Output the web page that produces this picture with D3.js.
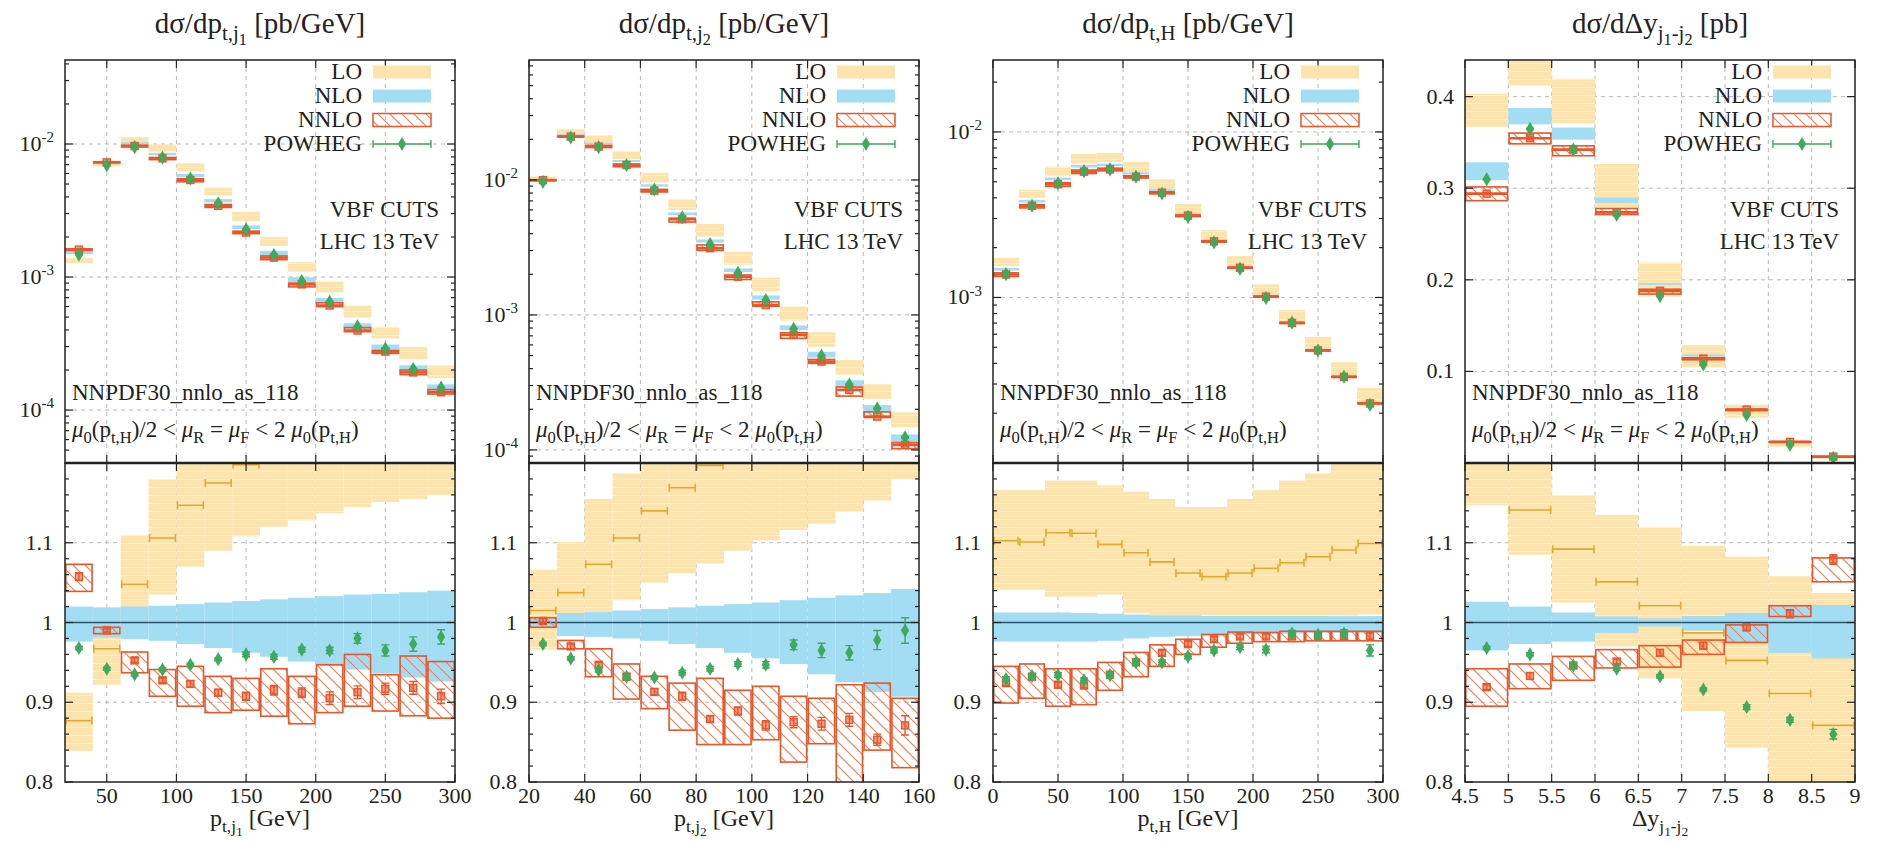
<!DOCTYPE html>
<html>
<head>
<meta charset="utf-8">
<script src="https://cdn.jsdelivr.net/npm/d3@7"></script>
<style>
  body { margin: 0; background: #fff; }
  text { font-family: "Liberation Serif", "Times New Roman", serif; fill: #222; }
</style>
</head>
<body>
<svg id="chart" width="1877" height="844"></svg>
<script>
// ---- data: ratios are relative to the NLO central value of each bin ----

// p_t,j1
const edgesJ1 = [20, 40, 60, 80, 100, 120, 140, 160, 180, 200, 220, 240, 260, 280, 300];
const nloJ1 = [1.52e-3, 7.35e-3, 1.014e-2, 8.41e-3, 5.81e-3, 3.76e-3, 2.38e-3, 1.53e-3, 9.66e-4, 6.75e-4, 4.34e-4, 3.0e-4, 2.09e-4, 1.5e-4];
const nloLoJ1 = [0.976, 0.981, 0.979, 0.977, 0.973, 0.968, 0.962, 0.957, 0.951, 0.946, 0.941, 0.936, 0.931, 0.926];
const nloHiJ1 = [1.020, 1.019, 1.020, 1.021, 1.023, 1.025, 1.027, 1.029, 1.031, 1.033, 1.035, 1.036, 1.038, 1.040];
const loJ1 = [0.877, 0.967, 1.048, 1.106, 1.147, 1.175, 1.198, 1.22, 1.235, 1.25, 1.26, 1.27, 1.28, 1.29];
const loLoJ1 = [0.839, 0.922, 1.000, 1.035, 1.070, 1.090, 1.108, 1.120, 1.128, 1.137, 1.145, 1.151, 1.155, 1.160];
const loHiJ1 = [0.912, 1.016, 1.110, 1.180, 1.230, 1.250, 1.300, 1.310, 1.340, 1.370, 1.400, 1.410, 1.430, 1.440];
const nnloJ1 = [1.0575, 0.990, 0.9525, 0.9275, 0.923, 0.912, 0.9075, 0.915, 0.912, 0.905, 0.9125, 0.917, 0.918, 0.9075];
const nnloLoJ1 = [1.039, 0.986, 0.937, 0.9075, 0.895, 0.887, 0.890, 0.8825, 0.873, 0.887, 0.895, 0.889, 0.883, 0.880];
const nnloHiJ1 = [1.073, 0.994, 0.963, 0.941, 0.945, 0.9325, 0.930, 0.942, 0.9325, 0.947, 0.960, 0.9345, 0.958, 0.951];
const nnloErrJ1 = [0.005, 0.002, 0.003, 0.003, 0.004, 0.004, 0.005, 0.006, 0.006, 0.008, 0.008, 0.007, 0.008, 0.009];
const pwJ1 = [0.968, 0.942, 0.935, 0.941, 0.947, 0.954, 0.960, 0.957, 0.966, 0.965, 0.980, 0.965, 0.973, 0.982];
const pwErrJ1 = [0.002, 0.002, 0.002, 0.002, 0.002, 0.002, 0.003, 0.003, 0.003, 0.004, 0.006, 0.007, 0.009, 0.009];

// p_t,j2
const edgesJ2 = [20, 30, 40, 50, 60, 70, 80, 90, 100, 110, 120, 130, 140, 150, 160];
const nloJ2 = [9.95e-3, 2.16e-2, 1.865e-2, 1.385e-2, 9.13e-3, 5.64e-3, 3.55e-3, 2.16e-3, 1.36e-3, 8.13e-4, 5.17e-4, 3.17e-4, 2.07e-4, 1.25e-4];
const nloLoJ2 = [0.994, 0.983, 0.982, 0.980, 0.977, 0.973, 0.968, 0.962, 0.955, 0.948, 0.935, 0.925, 0.913, 0.907];
const nloHiJ2 = [1.006, 1.012, 1.013, 1.015, 1.017, 1.019, 1.021, 1.023, 1.025, 1.028, 1.031, 1.034, 1.037, 1.042];
const loJ2 = [1.015, 1.0375, 1.073, 1.106, 1.140, 1.169, 1.197, 1.22, 1.24, 1.26, 1.28, 1.30, 1.32, 1.35];
const loLoJ2 = [0.966, 1.003, 1.010, 1.028, 1.050, 1.062, 1.074, 1.090, 1.103, 1.116, 1.124, 1.139, 1.153, 1.180];
const loHiJ2 = [1.066, 1.101, 1.155, 1.187, 1.24, 1.28, 1.33, 1.36, 1.39, 1.42, 1.44, 1.46, 1.48, 1.52];
const nnloJ2 = [1.002, 0.970, 0.947, 0.932, 0.913, 0.9075, 0.879, 0.889, 0.871, 0.875, 0.873, 0.878, 0.853, 0.871];
const nnloLoJ2 = [0.994, 0.967, 0.932, 0.904, 0.892, 0.865, 0.847, 0.847, 0.853, 0.825, 0.848, 0.790, 0.840, 0.818];
const nnloHiJ2 = [1.006, 0.9775, 0.967, 0.948, 0.9325, 0.924, 0.930, 0.915, 0.920, 0.9075, 0.905, 0.922, 0.924, 0.905];
const nnloErrJ2 = [0.003, 0.003, 0.003, 0.004, 0.004, 0.005, 0.004, 0.005, 0.006, 0.007, 0.008, 0.008, 0.007, 0.012];
const pwJ2 = [0.973, 0.955, 0.940, 0.932, 0.931, 0.937, 0.942, 0.948, 0.947, 0.972, 0.965, 0.962, 0.978, 0.990];
const pwErrJ2 = [0.002, 0.002, 0.002, 0.002, 0.002, 0.003, 0.003, 0.003, 0.004, 0.006, 0.009, 0.009, 0.012, 0.016];

// p_t,H
const edgesH = [0, 20, 40, 60, 80, 100, 120, 140, 160, 180, 200, 220, 240, 260, 280, 300];
const nloH = [1.49e-3, 3.84e-3, 5.24e-3, 6.25e-3, 6.36e-3, 5.65e-3, 4.47e-3, 3.21e-3, 2.23e-3, 1.54e-3, 1.03e-3, 7.14e-4, 4.87e-4, 3.37e-4, 2.33e-4];
const nloLoH = [0.976, 0.976, 0.976, 0.976, 0.977, 0.980, 0.982, 0.983, 0.984, 0.985, 0.986, 0.986, 0.987, 0.987, 0.987];
const nloHiH = [1.0125, 1.0125, 1.0125, 1.012, 1.011, 1.010, 1.009, 1.009, 1.008, 1.008, 1.008, 1.008, 1.008, 1.008, 1.008];
const loH = [1.1025, 1.101, 1.1125, 1.112, 1.098, 1.0875, 1.076, 1.062, 1.0575, 1.062, 1.068, 1.075, 1.0825, 1.091, 1.099];
const loLoH = [1.041, 1.041, 1.0325, 1.0325, 1.035, 1.012, 1.005, 1.002, 1.000, 1.000, 1.002, 1.004, 1.006, 1.008, 1.010];
const loHiH = [1.166, 1.166, 1.178, 1.178, 1.172, 1.164, 1.155, 1.145, 1.145, 1.155, 1.166, 1.178, 1.187, 1.205, 1.22];
const nnloH = [0.924, 0.932, 0.922, 0.921, 0.9345, 0.950, 0.962, 0.973, 0.979, 0.9825, 0.9825, 0.9825, 0.983, 0.983, 0.983];
const nnloLoH = [0.899, 0.905, 0.895, 0.897, 0.915, 0.932, 0.945, 0.960, 0.969, 0.974, 0.976, 0.976, 0.977, 0.977, 0.977];
const nnloHiH = [0.945, 0.948, 0.942, 0.942, 0.950, 0.9625, 0.972, 0.979, 0.985, 0.988, 0.9875, 0.989, 0.989, 0.989, 0.989];
const nnloErrH = [0.003, 0.003, 0.003, 0.003, 0.003, 0.003, 0.003, 0.003, 0.003, 0.003, 0.003, 0.003, 0.004, 0.004, 0.004];
const pwH = [0.929, 0.933, 0.934, 0.9275, 0.934, 0.950, 0.950, 0.9575, 0.965, 0.969, 0.966, 0.986, 0.9845, 0.986, 0.965];
const pwErrH = [0.003, 0.003, 0.003, 0.003, 0.003, 0.003, 0.003, 0.003, 0.003, 0.003, 0.004, 0.004, 0.004, 0.005, 0.007];

// Delta y_j1-j2
const edgesDy = [4.5, 5, 5.5, 6, 6.5, 7, 7.5, 8, 8.5, 9];
const nloDy = [0.320, 0.380, 0.3617, 0.2877, 0.1954, 0.1174, 0.0587, 0.0228, 0.0065];
const nloLoDy = [0.965, 0.973, 0.976, 0.987, 0.995, 0.990, 0.974, 0.962, 0.955];
const nloHiDy = [1.026, 1.020, 1.0125, 1.0075, 1.005, 1.008, 1.012, 1.022, 1.022];
const loDy = [1.21, 1.141, 1.092, 1.051, 1.021, 0.987, 0.9525, 0.911, 0.871];
const loLoDy = [1.147, 1.085, 1.025, 0.970, 0.930, 0.889, 0.843, 0.780, 0.740];
const loHiDy = [1.26, 1.23, 1.16, 1.135, 1.12, 1.096, 1.0825, 1.058, 1.037];
const nnloDy = [0.919, 0.933, 0.946, 0.951, 0.962, 0.971, 0.994, 1.011, 1.079];
const nnloLoDy = [0.895, 0.917, 0.9275, 0.943, 0.944, 0.960, 0.975, 1.0075, 1.051];
const nnloHiDy = [0.942, 0.948, 0.9575, 0.966, 0.971, 0.978, 0.997, 1.021, 1.081];
const nnloErrDy = [0.003, 0.004, 0.003, 0.003, 0.004, 0.004, 0.004, 0.005, 0.006];
const pwDy = [0.968, 0.960, 0.946, 0.942, 0.9325, 0.916, 0.894, 0.878, 0.860];
const pwErrDy = [0.002, 0.002, 0.002, 0.002, 0.002, 0.002, 0.003, 0.003, 0.006];

// tick values
const xTicksJ1 = [50, 100, 150, 200, 250, 300];
const xTicksJ2 = [20, 40, 60, 80, 100, 120, 140, 160];
const xTicksH = [0, 50, 100, 150, 200, 250, 300];
const xTicksDy = [4.5, 5, 5.5, 6, 6.5, 7, 7.5, 8, 8.5, 9];
const yTicksJ1 = [1e-4, 1e-3, 1e-2];
const yTicksJ2 = [1e-4, 1e-3, 1e-2];
const yTicksH = [1e-3, 1e-2];
const yTicksDy = [0.1, 0.2, 0.3, 0.4];
const ratioTicks = [0.8, 0.9, 1, 1.1];

const legendNames = ['LO', 'NLO', 'NNLO', 'POWHEG'];

// ---- layout ----
const panelLeft = [65, 529, 993, 1465];
const panelW = 390;
const topY = 60, sepY = 463, botY = 782;

const loFill = '#fde4ae', nloFill = '#a3ddf4', nloLine = '#24506a', loLine = '#e2a92e';
const nnloCol = '#e8562a', hatchCol = '#ef7d58', pwCol = '#3daa5c', gridCol = '#b8b8b8', axisCol = '#222';

const panels = [
  { edges: edgesJ1, nlo: nloJ1, nloLo: nloLoJ1, nloHi: nloHiJ1, lo: loJ1, loLo: loLoJ1, loHi: loHiJ1,
    nnlo: nnloJ1, nnloLo: nnloLoJ1, nnloHi: nnloHiJ1, nnloErr: nnloErrJ1, pw: pwJ1, pwErr: pwErrJ1,
    xDomain: [20, 300], xTicks: xTicksJ1, log: true, yDomain: [4.0e-5, 4.28e-2], yTicks: yTicksJ1,
    title: [['dσ/dp', 0], ['t,j', -1], ['1', -2], [' [pb/GeV]', 0]],
    xlabel: [['p', 0], ['t,j', -1], ['1', -2], [' [GeV]', 0]] },
  { edges: edgesJ2, nlo: nloJ2, nloLo: nloLoJ2, nloHi: nloHiJ2, lo: loJ2, loLo: loLoJ2, loHi: loHiJ2,
    nnlo: nnloJ2, nnloLo: nnloLoJ2, nnloHi: nnloHiJ2, nnloErr: nnloErrJ2, pw: pwJ2, pwErr: pwErrJ2,
    xDomain: [20, 160], xTicks: xTicksJ2, log: true, yDomain: [8.0e-5, 7.74e-2], yTicks: yTicksJ2,
    title: [['dσ/dp', 0], ['t,j', -1], ['2', -2], [' [pb/GeV]', 0]],
    xlabel: [['p', 0], ['t,j', -1], ['2', -2], [' [GeV]', 0]] },
  { edges: edgesH, nlo: nloH, nloLo: nloLoH, nloHi: nloHiH, lo: loH, loLo: loLoH, loHi: loHiH,
    nnlo: nnloH, nnloLo: nnloLoH, nnloHi: nnloHiH, nnloErr: nnloErrH, pw: pwH, pwErr: pwErrH,
    xDomain: [0, 300], xTicks: xTicksH, log: true, yDomain: [1.0e-4, 2.72e-2], yTicks: yTicksH,
    title: [['dσ/dp', 0], ['t,H', -1], [' [pb/GeV]', 0]],
    xlabel: [['p', 0], ['t,H', -1], [' [GeV]', 0]] },
  { edges: edgesDy, nlo: nloDy, nloLo: nloLoDy, nloHi: nloHiDy, lo: loDy, loLo: loLoDy, loHi: loHiDy,
    nnlo: nnloDy, nnloLo: nnloLoDy, nnloHi: nnloHiDy, nnloErr: nnloErrDy, pw: pwDy, pwErr: pwErrDy,
    xDomain: [4.5, 9], xTicks: xTicksDy, log: false, yDomain: [0, 0.44], yTicks: yTicksDy,
    title: [['dσ/dΔy', 0], ['j', -1], ['1', -2], ['-j', -1], ['2', -2], [' [pb]', 0]],
    xlabel: [['Δy', 0], ['j', -1], ['1', -2], ['-j', -1], ['2', -2]] }
];

const muText = [['μ', 0, true], ['0', -1], ['(p', 0], ['t,H', -1], [')/2 < ', 0], ['μ', 0, true], ['R', -1],
  [' = ', 0], ['μ', 0, true], ['F', -1], [' < 2 ', 0], ['μ', 0, true], ['0', -1], ['(p', 0], ['t,H', -1], [')', 0]];

const svg = d3.select('#chart');
const defs = svg.append('defs');

// LO band: light yellow with faint horizontal streaks
const loPat = defs.append('pattern').attr('id', 'loPat')
  .attr('patternUnits', 'userSpaceOnUse').attr('width', 8).attr('height', 8);
loPat.append('rect').attr('width', 8).attr('height', 8).attr('fill', loFill);
loPat.append('rect').attr('y', 7).attr('width', 8).attr('height', 1).attr('fill', '#fff').attr('opacity', 0.45);

// NNLO hatch, "\" direction
const hatch = defs.append('pattern').attr('id', 'hatch')
  .attr('patternUnits', 'userSpaceOnUse').attr('width', 12).attr('height', 12);
hatch.append('path').attr('d', 'M0,0L12,12M-3,9L3,15M9,-3L15,3')
  .attr('stroke', hatchCol).attr('stroke-width', 1.1);

// enhanced text: level 0 normal, 1 superscript, -1 subscript, -2 sub-subscript
function rich(t, parts, size) {
  const shift = { '0': 0, '1': -0.4, '-1': 0.24, '-2': 0.42 };
  const scale = { '0': 1, '1': 0.68, '-1': 0.72, '-2': 0.56 };
  let cur = 0;
  parts.forEach(([s, lv, italic]) => {
    const off = shift[lv] * size;
    t.append('tspan').attr('dy', off - cur)
      .attr('font-size', size * scale[lv])
      .attr('font-style', italic ? 'italic' : null)
      .text(s);
    cur = off;
  });
  return t;
}

const diamond = d3.symbol().type(d3.symbolDiamond).size(58);

function drawBins(g, p, bins, x, ym, upper) {
  const w = d => x(d.x1) - x(d.x0);
  const xm = d => (x(d.x0) + x(d.x1)) / 2;
  const band = (lo, hi, fill) => g.append('g').selectAll('rect').data(bins).join('rect')
    .attr('x', d => x(d.x0)).attr('width', w)
    .attr('y', d => ym(d.k, hi[d.k]))
    .attr('height', d => Math.max(0, ym(d.k, lo[d.k]) - ym(d.k, hi[d.k])))
    .attr('fill', fill);

  band(p.loLo, p.loHi, 'url(#loPat)');
  band(p.nloLo, p.nloHi, nloFill);

  if (!upper) {
    // LO central value with bin-edge caps
    g.append('g').attr('stroke', loLine).attr('stroke-width', 1.6).attr('fill', 'none')
      .selectAll('path').data(bins).join('path')
      .attr('d', d => {
        const y = ym(d.k, p.lo[d.k]), a = x(d.x0) + 1, b = x(d.x1) - 1;
        return `M${a},${y}H${b}M${a},${y - 4}V${y + 4}M${b},${y - 4}V${y + 4}`;
      });

    // NLO central value
    g.append('g').attr('stroke', nloLine).attr('stroke-width', 1.5)
      .selectAll('line').data(bins).join('line')
      .attr('x1', d => x(d.x0)).attr('x2', d => x(d.x1))
      .attr('y1', d => ym(d.k, 1)).attr('y2', d => ym(d.k, 1));
  }

  // NNLO hatched band
  g.append('g').selectAll('rect').data(bins).join('rect')
    .attr('x', d => x(d.x0) + 0.8).attr('width', d => w(d) - 1.6)
    .attr('y', d => ym(d.k, p.nnloHi[d.k]))
    .attr('height', d => Math.max(0.5, ym(d.k, p.nnloLo[d.k]) - ym(d.k, p.nnloHi[d.k])))
    .attr('fill', 'url(#hatch)').attr('stroke', nnloCol).attr('stroke-width', 1.6);

  if (upper) {
    g.append('g').attr('stroke', nnloCol).attr('stroke-width', 2.6)
      .selectAll('line').data(bins).join('line')
      .attr('x1', d => x(d.x0) + 1).attr('x2', d => x(d.x1) - 1)
      .attr('y1', d => ym(d.k, p.nnlo[d.k])).attr('y2', d => ym(d.k, p.nnlo[d.k]));
  }

  // NNLO central with stat error
  const nn = g.append('g').attr('stroke', nnloCol).attr('stroke-width', 1.4);
  nn.selectAll('path').data(bins).join('path').attr('fill', 'none')
    .attr('d', d => {
      const c = xm(d), y1 = ym(d.k, p.nnlo[d.k] + p.nnloErr[d.k]), y2 = ym(d.k, p.nnlo[d.k] - p.nnloErr[d.k]);
      return `M${c},${y1}V${y2}M${c - 4},${y1}H${c + 4}M${c - 4},${y2}H${c + 4}`;
    });
  nn.selectAll('rect').data(bins).join('rect')
    .attr('x', d => xm(d) - 3.5).attr('y', d => ym(d.k, p.nnlo[d.k]) - 3.5)
    .attr('width', 7).attr('height', 7)
    .attr('fill', nnloCol).attr('fill-opacity', 0.55);

  // POWHEG
  const pg = g.append('g').attr('stroke', pwCol).attr('stroke-width', 1.4);
  pg.selectAll('path.err').data(bins).join('path').attr('class', 'err').attr('fill', 'none')
    .attr('d', d => {
      const c = xm(d), y1 = ym(d.k, p.pw[d.k] + p.pwErr[d.k]), y2 = ym(d.k, p.pw[d.k] - p.pwErr[d.k]);
      return `M${c},${y1}V${y2}M${c - 4},${y1}H${c + 4}M${c - 4},${y2}H${c + 4}`;
    });
  pg.selectAll('path.pt').data(bins).join('path').attr('class', 'pt')
    .attr('d', diamond).attr('fill', pwCol).attr('stroke', 'none')
    .attr('transform', d => `translate(${xm(d)},${ym(d.k, p.pw[d.k])})`);
}

function drawPanel(p, i) {
  const left = panelLeft[i], right = left + panelW, cx = left + panelW / 2;
  const x = d3.scaleLinear().domain(p.xDomain).range([left, right]);
  const yU = (p.log ? d3.scaleLog() : d3.scaleLinear()).domain(p.yDomain).range([sepY, topY]);
  const yR = d3.scaleLinear().domain([0.8, 1.2]).range([botY, sepY]);
  const bins = p.edges.slice(0, -1).map((x0, k) => ({ x0, x1: p.edges[k + 1], k }));

  const g = svg.append('g');

  g.append('clipPath').attr('id', `cu${i}`).append('rect')
    .attr('x', left).attr('y', topY).attr('width', panelW).attr('height', sepY - topY);
  g.append('clipPath').attr('id', `cl${i}`).append('rect')
    .attr('x', left).attr('y', sepY).attr('width', panelW).attr('height', botY - sepY);

  // grid
  const grid = g.append('g').attr('stroke', gridCol).attr('stroke-width', 1).attr('stroke-dasharray', '4,4');
  p.xTicks.filter(v => v > p.xDomain[0] && v < p.xDomain[1]).forEach(v => {
    grid.append('line').attr('x1', x(v)).attr('x2', x(v)).attr('y1', topY).attr('y2', botY);
  });
  p.yTicks.forEach(v => grid.append('line').attr('x1', left).attr('x2', right).attr('y1', yU(v)).attr('y2', yU(v)));
  [0.9, 1, 1.1].forEach(v => grid.append('line').attr('x1', left).attr('x2', right).attr('y1', yR(v)).attr('y2', yR(v)));

  // data
  const gu = g.append('g').attr('clip-path', `url(#cu${i})`);
  drawBins(gu, p, bins, x, (k, r) => yU(p.nlo[k] * r), true);
  const gl = g.append('g').attr('clip-path', `url(#cl${i})`);
  drawBins(gl, p, bins, x, (k, r) => yR(r), false);

  // frames
  const ax = g.append('g').attr('stroke', axisCol).attr('fill', 'none');
  ax.append('rect').attr('x', left).attr('y', topY).attr('width', panelW).attr('height', sepY - topY).attr('stroke-width', 1.5);
  ax.append('rect').attr('x', left).attr('y', sepY).attr('width', panelW).attr('height', botY - sepY).attr('stroke-width', 1.5);
  ax.append('line').attr('x1', left).attr('x2', right).attr('y1', sepY).attr('y2', sepY).attr('stroke-width', 2.6);

  const tick = (x1, y1, x2, y2) => ax.append('line').attr('x1', x1).attr('y1', y1).attr('x2', x2).attr('y2', y2).attr('stroke-width', 1.2);

  // x ticks (inward) on every horizontal border
  p.xTicks.forEach(v => {
    const xv = x(v);
    tick(xv, topY, xv, topY + 8);
    tick(xv, sepY - 8, xv, sepY + 8);
    tick(xv, botY, xv, botY - 8);
  });

  // upper y ticks
  p.yTicks.forEach(v => { tick(left, yU(v), left + 8, yU(v)); tick(right, yU(v), right - 8, yU(v)); });
  if (p.log) {
    const [d0, d1] = p.yDomain;
    for (let e = Math.floor(Math.log10(d0)); e <= Math.ceil(Math.log10(d1)); e++) {
      for (let m = 2; m <= 9; m++) {
        const v = m * Math.pow(10, e);
        if (v > d0 && v < d1) { tick(left, yU(v), left + 4, yU(v)); tick(right, yU(v), right - 4, yU(v)); }
      }
    }
  }

  // ratio y ticks
  d3.range(0, 21).map(j => 0.8 + j * 0.02).forEach((v, j) => {
    const len = j % 5 === 0 ? 8 : 4;
    tick(left, yR(v), left + len, yR(v));
    tick(right, yR(v), right - len, yR(v));
  });

  // tick labels
  const fmt = d3.format('~g');
  p.xTicks.forEach(v => {
    g.append('text').attr('x', x(v)).attr('y', botY + 21).attr('text-anchor', 'middle')
      .attr('font-size', 22).text(fmt(v));
  });
  ratioTicks.forEach(v => {
    g.append('text').attr('x', left - 12).attr('y', yR(v) + 7).attr('text-anchor', 'end')
      .attr('font-size', 22).text(fmt(v));
  });
  p.yTicks.forEach(v => {
    const t = g.append('text').attr('x', left - 11).attr('y', yU(v) + 7).attr('text-anchor', 'end');
    if (p.log) rich(t, [['10', 0], [String(Math.round(Math.log10(v))), 1]], 22);
    else t.attr('font-size', 22).text(fmt(v));
  });

  // title and axis label
  rich(g.append('text').attr('x', cx).attr('y', 33).attr('text-anchor', 'middle'), p.title, 29);
  rich(g.append('text').attr('x', cx).attr('y', 826).attr('text-anchor', 'middle'), p.xlabel, 24);

  // annotations
  g.append('text').attr('x', right - 16).attr('y', 217).attr('text-anchor', 'end').attr('font-size', 23).text('VBF CUTS');
  g.append('text').attr('x', right - 16).attr('y', 249).attr('text-anchor', 'end').attr('font-size', 23).text('LHC 13 TeV');
  g.append('text').attr('x', left + 7).attr('y', 400).attr('font-size', 23).text('NNPDF30_nnlo_as_118');
  rich(g.append('text').attr('x', left + 7).attr('y', 437), muText, 23);

  // legend
  const lg = g.append('g');
  const sx0 = right - 82, sx1 = right - 24;
  legendNames.forEach((name, j) => {
    const cy = 72 + j * 24;
    lg.append('text').attr('x', right - 93).attr('y', cy + 7).attr('text-anchor', 'end')
      .attr('font-size', 23).text(name);
    if (j === 0) lg.append('rect').attr('x', sx0).attr('y', cy - 6.5).attr('width', sx1 - sx0).attr('height', 13).attr('fill', loFill);
    if (j === 1) lg.append('rect').attr('x', sx0).attr('y', cy - 6.5).attr('width', sx1 - sx0).attr('height', 13).attr('fill', nloFill);
    if (j === 2) lg.append('rect').attr('x', sx0).attr('y', cy - 6.5).attr('width', sx1 - sx0).attr('height', 13)
      .attr('fill', 'url(#hatch)').attr('stroke', nnloCol).attr('stroke-width', 1.5);
    if (j === 3) {
      lg.append('path').attr('d', `M${sx0},${cy}H${sx1}M${sx0},${cy - 4}V${cy + 4}M${sx1},${cy - 4}V${cy + 4}`)
        .attr('stroke', pwCol).attr('stroke-width', 1.4).attr('fill', 'none');
      lg.append('path').attr('d', diamond).attr('fill', pwCol)
        .attr('transform', `translate(${(sx0 + sx1) / 2},${cy})`);
    }
  });
}

panels.forEach(drawPanel);
</script>
</body>
</html>
